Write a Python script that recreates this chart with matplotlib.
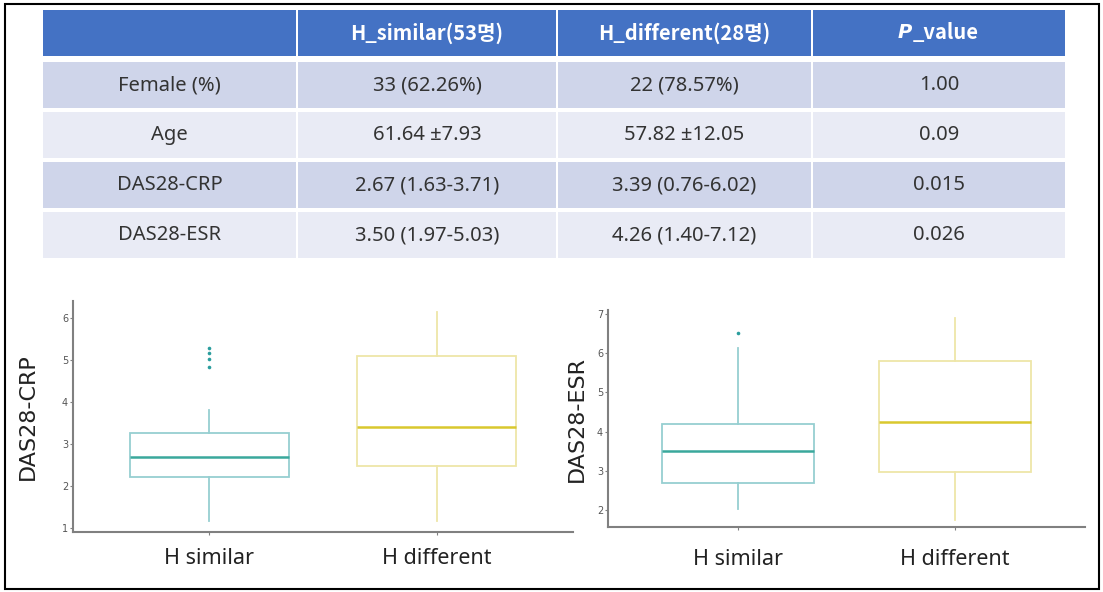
import matplotlib
matplotlib.use("Agg")
import matplotlib.pyplot as plt
from matplotlib.patches import Rectangle

# table contents
col_headers = ["", "H_similar(53명)", "H_different(28명)", "P_value"]
row_names = ["Female (%)", "Age", "DAS28-CRP", "DAS28-ESR"]
similar_txt = ["33 (62.26%)", "61.64 ±7.93", "2.67 (1.63-3.71)", "3.50 (1.97-5.03)"]
different_txt = ["22 (78.57%)", "57.82 ±12.05", "3.39 (0.76-6.02)", "4.26 (1.40-7.12)"]
p_txt = ["1.00", "0.09", "0.015", "0.026"]

# boxplot stats: whislo, q1, med, q3, whishi, fliers
groups = ["H similar", "H different"]
crp_similar = [1.17, 2.22, 2.68, 3.25, 3.80]
crp_similar_out = [4.84, 5.02, 5.16, 5.28]
crp_different = [1.17, 2.46, 3.39, 5.09, 6.15]
crp_different_out = []
esr_similar = [2.02, 2.69, 3.51, 4.19, 6.13]
esr_similar_out = [6.52]
esr_different = [1.75, 2.97, 4.25, 5.80, 6.90]
esr_different_out = []

W, H = 1103, 592
fig = plt.figure(figsize=(W / 100, H / 100), dpi=100)

# background axes in pixel coordinates for the table and the frame
bg = fig.add_axes([0, 0, 1, 1])
bg.set_xlim(0, W)
bg.set_ylim(H, 0)
bg.axis("off")
bg.add_patch(Rectangle((5, 4), 1094, 585, fill=False, ec="black", lw=1.5))

edges = [42, 297, 557, 812, 1066]
tfont = ["Noto Sans", "Noto Sans CJK KR", "DejaVu Sans"]
hfont = ["Noto Sans CJK KR", "DejaVu Sans"]
# header
for i in range(4):
    bg.add_patch(Rectangle((edges[i] + 1, 10), edges[i + 1] - edges[i] - 2, 46,
                           fc="#4472C4", ec="none"))
for i in range(1, 3):
    bg.text((edges[i] + edges[i + 1]) / 2, 33, col_headers[i], ha="center", va="center",
            color="white", fontsize=14.5, fontweight="bold", family=hfont)
# P_value header, italic P
pc = (edges[3] + edges[4]) / 2
bg.text(pc - 27, 33, "P", ha="right", va="center", color="white", fontsize=14,
        fontweight="bold", style="italic", family=["DejaVu Sans"])
bg.text(pc - 26, 33, "_value", ha="left", va="center", color="white", fontsize=14.5,
        fontweight="bold", family=hfont)

row_cols = ["#CFD5EA", "#E9EBF5", "#CFD5EA", "#E9EBF5"]
for r in range(4):
    top = 62 + 50 * r
    for i in range(4):
        bg.add_patch(Rectangle((edges[i] + 1, top), edges[i + 1] - edges[i] - 2, 46,
                               fc=row_cols[r], ec="none"))
    vals = [row_names[r], similar_txt[r], different_txt[r], p_txt[r]]
    for i in range(4):
        bg.text((edges[i] + edges[i + 1]) / 2, top + 23, vals[i], ha="center", va="center",
                color="#333333", fontsize=14.5, family=tfont)


def box(ax, stats, outs, labels, ylim, ylabel, yticks, xpad):
    cols = [("#96CFD1", "#3AA89C", "#2A9D9D"), ("#EEE6A8", "#D9C82E", "#D9C82E")]
    for k in range(2):
        s = stats[k]
        st = [dict(whislo=s[0], q1=s[1], med=s[2], q3=s[3], whishi=s[4],
                   fliers=outs[k])]
        edge, medc, flc = cols[k]
        ax.bxp(st, positions=[k + 1], widths=0.7, showcaps=False, patch_artist=True,
               boxprops=dict(facecolor="white", edgecolor=edge, lw=1.3),
               whiskerprops=dict(color=edge, lw=1.3),
               medianprops=dict(color=medc, lw=1.8),
               flierprops=dict(marker="o", markersize=2.6, markerfacecolor=flc,
                               markeredgecolor="none"))
    ax.set_xlim(0.4, 2.6)
    ax.set_ylim(*ylim)
    ax.set_yticks(yticks)
    ax.set_xticks([1, 2])
    ax.set_xticklabels(labels, fontsize=15.5, family=["Noto Sans"], color="#222222")
    ax.set_ylabel(ylabel, fontsize=16, color="#222222", labelpad=1)
    for sp in ["top", "right"]:
        ax.spines[sp].set_visible(False)
    for sp in ["left", "bottom"]:
        ax.spines[sp].set_color("#808080")
        ax.spines[sp].set_linewidth(1.5)
    ax.tick_params(axis="y", labelsize=7, colors="#808080", labelcolor="#555555",
                   length=2.5, width=0.8, pad=1)
    ax.tick_params(axis="x", colors="#808080", labelcolor="#222222",
                   length=2.5, width=0.8, pad=xpad)


def px_axes(x0, x1, ytop, ybot):
    return fig.add_axes([x0 / W, 1 - ybot / H, (x1 - x0) / W, (ybot - ytop) / H])


ax1 = px_axes(73, 573, 301, 532)
box(ax1, [crp_similar, crp_different], [crp_similar_out, crp_different_out], groups,
    (0.9, 6.4), "DAS28-CRP", [1, 2, 3, 4, 5, 6], 9)
ax1.yaxis.set_label_coords(-0.07, 0.5)

ax2 = px_axes(608, 1085, 310, 527)
box(ax2, [esr_similar, esr_different], [esr_similar_out, esr_different_out], groups,
    (1.57, 7.1), "DAS28-ESR", [2, 3, 4, 5, 6, 7], 13)
ax2.yaxis.set_label_coords(-0.045, 0.5)

plt.savefig("out.png", dpi=100)
